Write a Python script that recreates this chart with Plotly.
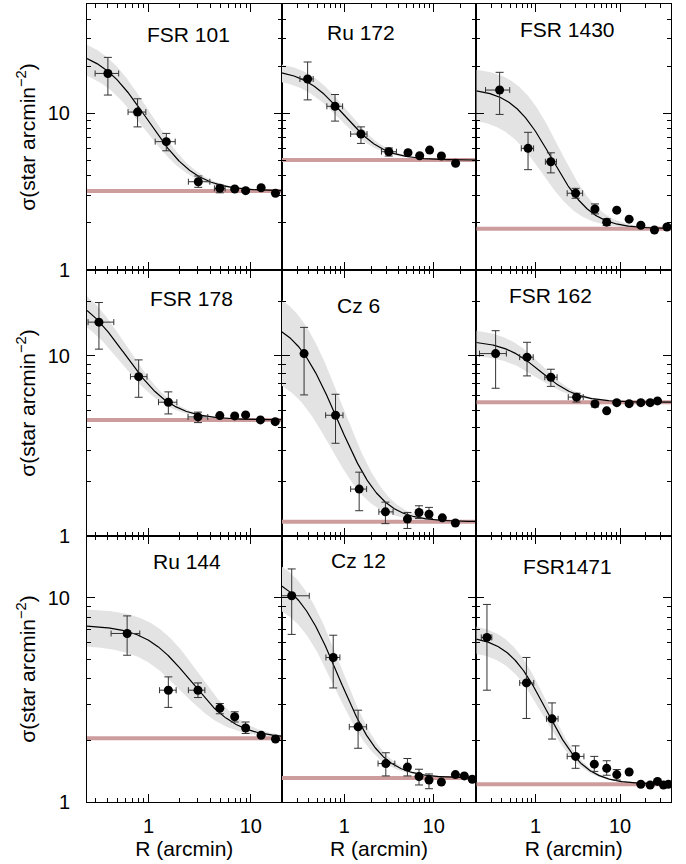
import numpy as np
import plotly.graph_objects as go
from plotly.subplots import make_subplots

# ---------------- data ----------------
# each panel: R (arcmin), sigma (stars/arcmin^2), error limits, and King fit
# fit = [background, sigma0, core radius, d_sigma0, d_rc]

fsr101_r   = [0.40, 0.78, 1.49, 3.06, 4.97, 6.95, 8.89, 12.6, 17.4]
fsr101_s   = [18.0, 10.2, 6.6, 3.66, 3.32, 3.29, 3.21, 3.35, 3.09]
fsr101_shi = [22.8, 12.4, 7.45, 3.98, 3.49, 3.29, 3.21, 3.35, 3.09]
fsr101_slo = [13.1, 8.2, 5.77, 3.37, 3.11, 3.29, 3.21, 3.35, 3.09]
fsr101_rlo = [0.30, 0.63, 1.16, 2.45, 4.4, 6.95, 8.89, 12.6, 17.4]
fsr101_rhi = [0.51, 0.94, 1.82, 3.97, 5.6, 6.95, 8.89, 12.6, 17.4]
fsr101_fit = [3.19, 22.8, 0.577, 6.0, 0.0]

ru172_r   = [0.39, 0.79, 1.54, 3.15, 5.17, 6.98, 9.02, 12.2, 17.6]
ru172_s   = [16.6, 11.1, 7.38, 5.69, 5.61, 5.36, 5.83, 5.34, 4.80]
ru172_shi = [21.3, 13.2, 8.2, 6.02, 5.61, 5.36, 5.83, 5.34, 4.80]
ru172_slo = [12.2, 8.93, 6.43, 5.34, 5.61, 5.36, 5.83, 5.34, 4.80]
ru172_rlo = [0.32, 0.64, 1.18, 2.61, 5.17, 6.98, 9.02, 12.2, 17.6]
ru172_rhi = [0.45, 0.96, 1.80, 3.84, 5.17, 6.98, 9.02, 12.2, 17.6]
ru172_fit = [5.03, 14.2, 0.70, 2.4, 0.04]

fsr1430_r   = [0.377, 0.817, 1.52, 2.98, 5.05, 6.95, 9.14, 12.8, 17.6, 25.5, 35.8]
fsr1430_s   = [14.1, 5.98, 4.91, 3.09, 2.45, 2.02, 2.41, 2.11, 1.93, 1.80, 1.88]
fsr1430_shi = [18.3, 7.57, 5.6, 3.32, 2.64, 2.12, 2.41, 2.11, 1.93, 1.80, 1.88]
fsr1430_slo = [9.85, 4.37, 4.17, 2.87, 2.28, 1.92, 2.41, 2.11, 1.93, 1.80, 1.88]
fsr1430_rlo = [0.257, 0.68, 1.31, 2.37, 5.05, 6.95, 9.14, 12.8, 17.6, 25.5, 35.8]
fsr1430_rhi = [0.496, 0.95, 1.77, 3.61, 5.05, 6.95, 9.14, 12.8, 17.6, 25.5, 35.8]
fsr1430_fit = [1.835, 12.67, 0.926, 5.1, 0.13]

fsr178_r   = [0.327, 0.80, 1.56, 3.04, 4.97, 6.95, 8.89, 12.4, 17.3]
fsr178_s   = [15.4, 7.67, 5.53, 4.58, 4.66, 4.64, 4.70, 4.41, 4.31]
fsr178_shi = [19.8, 9.5, 6.31, 4.87, 4.66, 4.64, 4.70, 4.41, 4.31]
fsr178_slo = [10.9, 5.89, 4.76, 4.26, 4.66, 4.64, 4.70, 4.41, 4.31]
fsr178_rlo = [0.256, 0.665, 1.25, 2.43, 4.97, 6.95, 8.89, 12.4, 17.3]
fsr178_rhi = [0.457, 0.965, 1.89, 3.79, 4.97, 6.95, 8.89, 12.4, 17.3]
fsr178_fit = [4.41, 19.1, 0.387, 5.0, 0.0]

cz6_r   = [0.356, 0.80, 1.47, 2.89, 5.09, 6.86, 8.87, 12.5, 17.5]
cz6_s   = [10.3, 4.68, 1.82, 1.36, 1.24, 1.35, 1.32, 1.26, 1.18]
cz6_shi = [14.4, 6.12, 2.26, 1.54, 1.35, 1.47, 1.44, 1.26, 1.18]
cz6_slo = [6.07, 3.27, 1.38, 1.17, 1.10, 1.25, 1.25, 1.26, 1.18]
cz6_rlo = [0.356, 0.62, 1.18, 2.44, 5.09, 6.86, 8.87, 12.5, 17.5]
cz6_rhi = [0.356, 0.97, 1.78, 3.52, 5.09, 6.86, 8.87, 12.5, 17.5]
cz6_fit = [1.20, 15.0, 0.44, 8.2, 0.0]

fsr162_r   = [0.338, 0.795, 1.52, 3.06, 5.05, 6.95, 9.14, 12.8, 17.6, 22.7, 27.7]
fsr162_s   = [10.3, 9.84, 7.61, 5.90, 5.41, 4.95, 5.50, 5.43, 5.50, 5.50, 5.62]
fsr162_shi = [13.8, 11.9, 8.43, 6.2, 5.6, 4.95, 5.50, 5.43, 5.50, 5.50, 5.62]
fsr162_slo = [6.61, 7.74, 6.77, 5.54, 5.2, 4.95, 5.50, 5.43, 5.50, 5.50, 5.62]
fsr162_rlo = [0.218, 0.65, 1.29, 2.44, 5.05, 6.95, 9.14, 12.8, 17.6, 22.7, 27.7]
fsr162_rhi = [0.453, 0.94, 1.80, 3.67, 5.05, 6.95, 9.14, 12.8, 17.6, 22.7, 27.7]
fsr162_fit = [5.53, 6.62, 0.94, 2.0, 0.0]

ru144_r   = [0.617, 1.56, 3.04, 4.97, 6.95, 8.89, 12.6, 17.4]
ru144_s   = [6.67, 3.52, 3.52, 2.87, 2.61, 2.30, 2.12, 2.03]
ru144_shi = [8.13, 4.09, 3.82, 3.03, 2.76, 2.46, 2.12, 2.03]
ru144_slo = [5.22, 2.90, 3.24, 2.70, 2.46, 2.16, 2.12, 2.03]
ru144_rlo = [0.43, 1.28, 2.45, 4.97, 6.95, 8.89, 12.6, 17.4]
ru144_rhi = [0.82, 1.86, 3.55, 4.97, 6.95, 8.89, 12.6, 17.4]
ru144_fit = [2.05, 5.28, 1.89, 1.5, 0.25]

cz12_r   = [0.259, 0.754, 1.43, 2.92, 5.09, 6.86, 8.87, 12.2, 17.5, 22.0, 27.0]
cz12_s   = [10.2, 5.09, 2.33, 1.54, 1.48, 1.33, 1.28, 1.25, 1.36, 1.34, 1.29]
cz12_shi = [13.8, 6.54, 2.81, 1.74, 1.63, 1.445, 1.37, 1.25, 1.36, 1.34, 1.29]
cz12_slo = [6.6, 3.61, 1.83, 1.34, 1.34, 1.21, 1.16, 1.25, 1.36, 1.34, 1.29]
cz12_rlo = [0.192, 0.625, 1.14, 2.39, 5.09, 6.86, 8.87, 12.2, 17.5, 22.0, 27.0]
cz12_rhi = [0.407, 0.895, 1.78, 3.68, 5.09, 6.86, 8.87, 12.2, 17.5, 22.0, 27.0]
cz12_fit = [1.31, 11.8, 0.482, 3.3, 0.0]

fsr1471_r   = [0.267, 0.782, 1.57, 2.98, 4.96, 6.95, 9.14, 12.8, 17.6, 22.7, 27.7, 32.6, 37.4]
fsr1471_s   = [6.38, 3.82, 2.55, 1.67, 1.53, 1.46, 1.36, 1.40, 1.22, 1.21, 1.26, 1.21, 1.22]
fsr1471_shi = [9.25, 5.09, 3.05, 1.88, 1.67, 1.59, 1.44, 1.40, 1.22, 1.21, 1.26, 1.21, 1.22]
fsr1471_slo = [3.52, 2.56, 2.03, 1.46, 1.41, 1.35, 1.28, 1.40, 1.22, 1.21, 1.26, 1.21, 1.22]
fsr1471_rlo = [0.229, 0.651, 1.35, 2.37, 4.96, 6.95, 9.14, 12.8, 17.6, 22.7, 27.7, 32.6, 37.4]
fsr1471_rhi = [0.305, 0.955, 1.85, 3.74, 4.96, 6.95, 9.14, 12.8, 17.6, 22.7, 27.7, 32.6, 37.4]
fsr1471_fit = [1.22, 5.3, 0.88, 1.0, 0.0]

panel_names = ["FSR 101", "Ru 172", "FSR 1430",
               "FSR 178", "Cz 6", "FSR 162",
               "Ru 144", "Cz 12", "FSR1471"]

col_xrange = [(0.25, 20), (0.2, 30), (0.2, 40)]
row_yrange = [(1, 50), (1, 30), (1, 20)]

x_ticks = [1, 10]
y_ticks = [1, 10]
minor_vals = [v * m for m in (0.1, 1, 10) for v in range(2, 10)]

panels = [
    (fsr101_r, fsr101_s, fsr101_shi, fsr101_slo, fsr101_rlo, fsr101_rhi, fsr101_fit),
    (ru172_r, ru172_s, ru172_shi, ru172_slo, ru172_rlo, ru172_rhi, ru172_fit),
    (fsr1430_r, fsr1430_s, fsr1430_shi, fsr1430_slo, fsr1430_rlo, fsr1430_rhi, fsr1430_fit),
    (fsr178_r, fsr178_s, fsr178_shi, fsr178_slo, fsr178_rlo, fsr178_rhi, fsr178_fit),
    (cz6_r, cz6_s, cz6_shi, cz6_slo, cz6_rlo, cz6_rhi, cz6_fit),
    (fsr162_r, fsr162_s, fsr162_shi, fsr162_slo, fsr162_rlo, fsr162_rhi, fsr162_fit),
    (ru144_r, ru144_s, ru144_shi, ru144_slo, ru144_rlo, ru144_rhi, ru144_fit),
    (cz12_r, cz12_s, cz12_shi, cz12_slo, cz12_rlo, cz12_rhi, cz12_fit),
    (fsr1471_r, fsr1471_s, fsr1471_shi, fsr1471_slo, fsr1471_rlo, fsr1471_rhi, fsr1471_fit),
]

# title centres in pixels (x, y)
title_pos = [(188, 34), (361, 33), (567, 30),
             (191, 298), (358, 305), (550, 295),
             (187, 561), (358, 560), (567, 566)]

# ---------------- figure ----------------
W, H = 686, 864
ML, MR, MT, MB = 87, 15, 4, 62
PW, PH = W - ML - MR, H - MT - MB
FONT = "Liberation Sans, Arial, Helvetica, sans-serif"

fig = make_subplots(rows=3, cols=3, shared_xaxes=True, shared_yaxes=True,
                    horizontal_spacing=0, vertical_spacing=0)


def king(R, bg, s0, rc):
    return bg + s0 / (1.0 + (R / rc) ** 2)


for i, (r, s, shi, slo, rlo, rhi, fit) in enumerate(panels):
    row, col = i // 3 + 1, i % 3 + 1
    x0, x1 = col_xrange[col - 1]
    r, s, shi, slo, rlo, rhi = map(np.array, (r, s, shi, slo, rlo, rhi))
    bg, s0, rc, ds0, drc = fit
    Rg = np.logspace(np.log10(x0), np.log10(x1), 300)
    up = king(Rg, bg, s0 + ds0, rc + drc)
    lo = king(Rg, bg, s0 - ds0, rc - drc)
    fig.add_trace(go.Scatter(x=np.concatenate([Rg, Rg[::-1]]),
                             y=np.concatenate([up, lo[::-1]]),
                             fill="toself", fillcolor="#e3e3e3",
                             line=dict(width=0), mode="lines",
                             hoverinfo="skip", showlegend=False), row=row, col=col)
    fig.add_trace(go.Scatter(x=[x0, x1], y=[bg, bg], mode="lines",
                             line=dict(color="#cd9c9c", width=4),
                             showlegend=False), row=row, col=col)
    fig.add_trace(go.Scatter(x=Rg, y=king(Rg, bg, s0, rc), mode="lines",
                             line=dict(color="black", width=1.2),
                             showlegend=False), row=row, col=col)
    fig.add_trace(go.Scatter(
        x=r, y=s, mode="markers",
        marker=dict(color="black", size=9),
        error_y=dict(type="data", symmetric=False, array=shi - s, arrayminus=s - slo,
                     color="#333333", thickness=1, width=4),
        error_x=dict(type="data", symmetric=False, array=rhi - r, arrayminus=r - rlo,
                     color="#333333", thickness=1, width=3),
        showlegend=False), row=row, col=col)

axis_common = dict(type="log", ticks="inside", ticklen=8, tickwidth=1,
                   tickcolor="black", showline=True, linecolor="black",
                   linewidth=1, mirror="allticks", showgrid=False, zeroline=False,
                   tickfont=dict(size=20, family=FONT, color="black"),
                   minor=dict(tickmode="array", tickvals=minor_vals, ticks="inside",
                              ticklen=4, tickwidth=1, tickcolor="black", showgrid=False))

for row in range(1, 4):
    for col in range(1, 4):
        x0, x1 = col_xrange[col - 1]
        y0, y1 = row_yrange[row - 1]
        fig.update_xaxes(range=[np.log10(x0), np.log10(x1)], tickvals=x_ticks,
                         ticktext=[str(v) for v in x_ticks], ticklabelstandoff=6,
                         **axis_common, row=row, col=col)
        fig.update_yaxes(range=[np.log10(y0) - 0.0005, np.log10(y1)], tickvals=y_ticks,
                         ticktext=[str(v) for v in y_ticks], ticklabelstandoff=12,
                         **axis_common, row=row, col=col)
        if row == 3:
            fig.update_xaxes(title=dict(text="R (arcmin)", standoff=2,
                                        font=dict(size=21, family=FONT, color="black")),
                             row=row, col=col)
        if col == 1:
            fig.update_yaxes(title=dict(text="σ(star arcmin<sup>−2</sup>)", standoff=6,
                                        font=dict(size=21, family=FONT, color="black")),
                             row=row, col=col)

for name, (px, py) in zip(panel_names, title_pos):
    fig.add_annotation(text=name, xref="paper", yref="paper",
                       x=(px - ML) / PW, y=1 - (py - MT) / PH,
                       xanchor="center", yanchor="middle", showarrow=False,
                       font=dict(size=21, family=FONT, color="black"))

fig.update_layout(width=W, height=H, template="none",
                  margin=dict(l=ML, r=MR, t=MT, b=MB, autoexpand=False),
                  paper_bgcolor="white", plot_bgcolor="white",
                  font=dict(family=FONT, color="black"), showlegend=False)

fig.write_html("out.html", config={"displayModeBar": False},
               post_script="document.body.style.margin='0px';document.body.style.overflow='hidden';")
